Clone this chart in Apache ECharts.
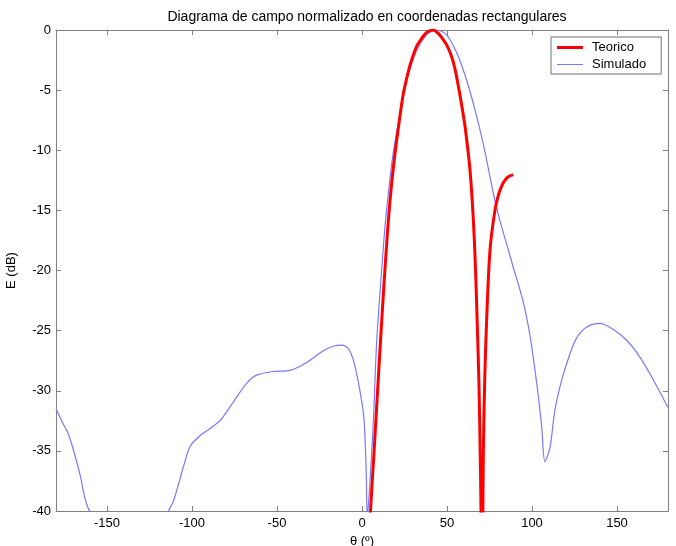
<!DOCTYPE html>
<html>
<head>
<meta charset="utf-8">
<script src="https://cdn.jsdelivr.net/npm/echarts@6/dist/echarts.min.js"></script>
<style>
html,body{margin:0;padding:0;background:#fff;}
#c{width:676px;height:546px;}
</style>
</head>
<body>
<div id="c"></div>
<script>
var titleText = 'Diagrama de campo normalizado en coordenadas rectangulares';
var xTicks = [-150, -100, -50, 0, 50, 100, 150];
var yTicks = [-40, -35, -30, -25, -20, -15, -10, -5, 0];

var thetaTeo = [0, 3, 5, 7, 9, 11, 13, 15, 17, 19.4, 22, 24.3, 27, 29.2, 32, 35.1, 38, 42, 45, 47.8, 50, 52.7, 54.8, 56.7, 58.7, 60.6, 63.5, 65.5, 66.8, 67.8, 68.8, 69.5, 70, 70.5, 71, 71.4, 72.2, 73.4, 75.3, 78.2, 80.5, 83.1, 86, 89];
var eTeo = [-60, -46, -40, -35.3, -30.4, -25.6, -21, -16.8, -13.4, -10.3, -7.5, -5.3, -3.6, -2.5, -1.4, -0.7, -0.2, 0, -0.3, -0.8, -1.3, -2.2, -3.3, -4.7, -6.3, -8.0, -11.6, -15.8, -20, -24.5, -29.4, -34.9, -40, -50, -42, -34.9, -29, -23.8, -18.3, -15, -13.6, -12.7, -12.2, -12.05];

var thetaSim = [-180, -176, -173, -170, -166, -163, -161, -159, -150, -135, -120, -114, -111, -108, -105, -101, -95, -89, -83, -76, -68, -62, -52, -42, -33, -23, -17, -12, -8, -5, -2, 1, 2.4, 3.1, 4.5, 6.7, 8.6, 11.6, 13.5, 15.5, 18.4, 24.3, 28, 32.2, 38.1, 43.9, 49.8, 55.7, 61.6, 67.5, 72, 75, 78.2, 81.2, 85.1, 88.5, 92.9, 95.5, 98.8, 102.8, 105.7, 107.6, 110.6, 113.5, 117.5, 122.4, 126.3, 132.2, 140, 147.8, 155.7, 163.5, 171.4, 180];
var eSim = [-31.5, -32.7, -33.5, -34.8, -36.9, -38.9, -39.8, -40.3, -46, -50, -45, -40.1, -39.2, -37.8, -36.3, -34.6, -33.7, -33.1, -32.4, -31.0, -29.4, -28.7, -28.4, -28.3, -27.7, -26.7, -26.3, -26.2, -26.5, -27.5, -29.4, -32.1, -36.3, -40.5, -38, -32.5, -26.0, -19.9, -16.4, -13.6, -10.2, -5.5, -3.3, -1.7, -0.4, 0, -0.4, -1.9, -4.2, -7.2, -9.9, -12.0, -14.2, -15.9, -17.8, -19.5, -21.6, -23.0, -25.4, -29.4, -33.0, -35.9, -34.7, -31.6, -29.1, -26.9, -25.6, -24.7, -24.4, -24.9, -25.8, -27.2, -29.1, -31.4];

function zip(a, b) { return a.map(function (v, i) { return [v, b[i]]; }); }

var font = "'Liberation Sans', Arial, sans-serif";
var axisColor = '#808080';
var txt = '#000';

var chart = echarts.init(document.getElementById('c'), null, {renderer: 'canvas'});
chart.setOption({
  animation: false,
  backgroundColor: '#fff',
  title: {
    text: titleText,
    left: 362, top: 5, textAlign: 'center',
    textStyle: {fontFamily: font, fontSize: 14, fontWeight: 'normal', color: txt}
  },
  legend: {
    orient: 'vertical',
    left: 551, top: 37,
    itemWidth: 26, itemHeight: 12, itemGap: 4,
    padding: [4, 15, 3, 6],
    borderColor: '#707070', borderWidth: 1,
    backgroundColor: '#fff',
    textStyle: {fontFamily: font, fontSize: 13, color: txt, padding: [0, 0, 0, 4]},
    data: [
      {name: 'Teorico', icon: 'path://M0,0L26,0L26,3L0,3Z', itemStyle: {color: '#ff0000'}},
      {name: 'Simulado', icon: 'path://M0,0L26,0L26,1L0,1Z', itemStyle: {color: '#7878ff'}}
    ]
  },
  grid: {left: 56, right: 8, top: 30, bottom: 35, outerBoundsMode: 'none', containLabel: false},
  xAxis: [{
    type: 'value', min: -180, max: 180,
    name: 'θ (º)', nameLocation: 'middle', nameGap: 24,
    nameTextStyle: {fontFamily: font, fontSize: 13, color: txt},
    axisLine: {show: true, onZero: false, lineStyle: {color: axisColor}},
    axisTick: {show: true, inside: true, length: 5, customValues: xTicks, lineStyle: {color: axisColor}},
    axisLabel: {customValues: xTicks, fontFamily: font, fontSize: 13, color: txt, margin: 6},
    splitLine: {show: false}
  }, {
    type: 'value', min: -180, max: 180, position: 'top',
    axisLine: {show: true, onZero: false, lineStyle: {color: axisColor}},
    axisTick: {show: true, inside: true, length: 5, customValues: xTicks, lineStyle: {color: axisColor}},
    axisLabel: {show: false},
    splitLine: {show: false}
  }],
  yAxis: [{
    type: 'value', min: -40, max: 0, interval: 5,
    name: 'E (dB)', nameLocation: 'middle', nameGap: 38, nameRotate: 90,
    nameTextStyle: {fontFamily: font, fontSize: 13, color: txt},
    axisLine: {show: true, onZero: false, lineStyle: {color: axisColor}},
    axisTick: {show: true, inside: true, length: 5, lineStyle: {color: axisColor}},
    axisLabel: {fontFamily: font, fontSize: 13, color: txt, margin: 5},
    splitLine: {show: false}
  }, {
    type: 'value', min: -40, max: 0, interval: 5, position: 'right',
    axisLine: {show: true, onZero: false, lineStyle: {color: axisColor}},
    axisTick: {show: true, inside: true, length: 5, lineStyle: {color: axisColor}},
    axisLabel: {show: false},
    splitLine: {show: false}
  }],
  series: [{
    name: 'Teorico', type: 'line', data: zip(thetaTeo, eTeo),
    smooth: 0.3, symbol: 'none', clip: true,
    lineStyle: {color: '#ff0000', width: 3},
    itemStyle: {color: '#ff0000'},
    z: 3
  }, {
    name: 'Simulado', type: 'line', data: zip(thetaSim, eSim),
    smooth: 0.3, symbol: 'none', clip: true,
    lineStyle: {color: '#7878ff', width: 1.2},
    itemStyle: {color: '#7878ff'},
    z: 2
  }]
});
</script>
</body>
</html>
